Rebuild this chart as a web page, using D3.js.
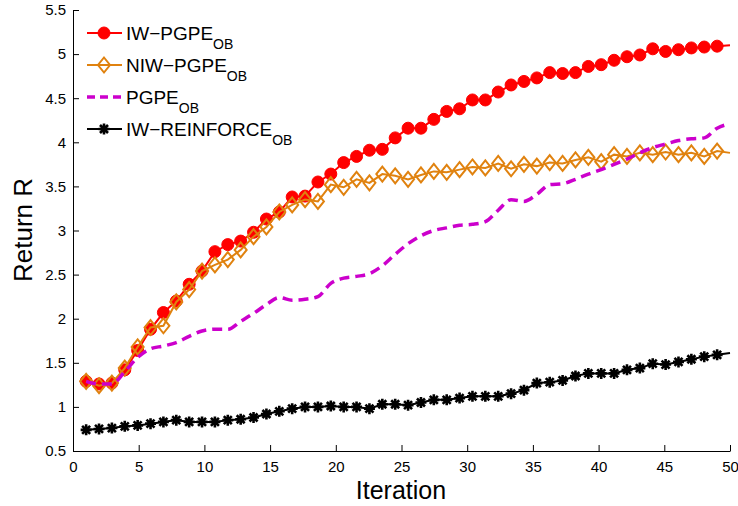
<!DOCTYPE html>
<meta charset="utf-8">
<title>Return R vs Iteration</title>
<style>
body { margin: 0; background: #fff; }
text { font-family: Arial, "Liberation Sans", Helvetica, sans-serif; fill: #000; }
</style>
<svg width="738" height="506"></svg>
<script src="https://d3js.org/d3.v7.min.js"></script>
<script>
// x positions of the samples (51 samples between 1 and 50, markers on first 50)
var iteration = [1, 1.98, 2.96, 3.94, 4.92, 5.9, 6.88, 7.86, 8.84, 9.82, 10.8, 11.78, 12.76,
  13.74, 14.72, 15.7, 16.68, 17.66, 18.64, 19.62, 20.6, 21.58, 22.56, 23.54, 24.52, 25.5,
  26.48, 27.46, 28.44, 29.42, 30.4, 31.38, 32.36, 33.34, 34.32, 35.3, 36.28, 37.26, 38.24,
  39.22, 40.2, 41.18, 42.16, 43.14, 44.12, 45.1, 46.08, 47.06, 48.04, 49.02, 50];

var iwPgpe = [1.29, 1.26, 1.27, 1.42, 1.64, 1.88, 2.07, 2.20, 2.39, 2.54, 2.76, 2.84, 2.88,
  2.98, 3.13, 3.21, 3.38, 3.39, 3.55, 3.64, 3.77, 3.84, 3.91, 3.92, 4.05, 4.16, 4.16, 4.26,
  4.35, 4.38, 4.48, 4.48, 4.57, 4.65, 4.69, 4.73, 4.79, 4.78, 4.79, 4.86, 4.88, 4.93, 4.97,
  4.99, 5.06, 5.03, 5.05, 5.07, 5.08, 5.09, 5.10];

var niwPgpe = [1.29, 1.24, 1.27, 1.44, 1.68, 1.90, 1.92, 2.19, 2.33, 2.54, 2.61, 2.67, 2.78,
  2.93, 3.04, 3.21, 3.29, 3.35, 3.33, 3.52, 3.49, 3.58, 3.54, 3.64, 3.62, 3.58, 3.63, 3.67,
  3.66, 3.69, 3.72, 3.71, 3.76, 3.70, 3.75, 3.73, 3.77, 3.76, 3.80, 3.83, 3.78, 3.86, 3.84,
  3.88, 3.86, 3.89, 3.86, 3.88, 3.84, 3.90, 3.88];

var pgpe = [1.29, 1.26, 1.26, 1.40, 1.56, 1.66, 1.69, 1.73, 1.80, 1.86, 1.88, 1.88, 1.97,
  2.06, 2.16, 2.24, 2.21, 2.22, 2.25, 2.40, 2.46, 2.48, 2.51, 2.60, 2.73, 2.85, 2.94, 3.00,
  3.03, 3.06, 3.07, 3.10, 3.23, 3.35, 3.33, 3.41, 3.52, 3.53, 3.58, 3.64, 3.69, 3.75, 3.81,
  3.88, 3.94, 3.98, 4.02, 4.04, 4.05, 4.16, 4.21];

var iwReinforce = [0.74, 0.75, 0.76, 0.78, 0.79, 0.81, 0.83, 0.85, 0.83, 0.83, 0.83, 0.85,
  0.86, 0.88, 0.92, 0.95, 0.98, 1.00, 1.00, 1.01, 1.00, 1.00, 0.98, 1.03, 1.03, 1.02, 1.05,
  1.08, 1.08, 1.10, 1.12, 1.12, 1.12, 1.15, 1.19, 1.27, 1.28, 1.30, 1.35, 1.38, 1.38, 1.38,
  1.42, 1.44, 1.49, 1.48, 1.51, 1.54, 1.57, 1.59, 1.61];

var xTicks = [0, 5, 10, 15, 20, 25, 30, 35, 40, 45, 50];
var yTicks = [0.5, 1, 1.5, 2, 2.5, 3, 3.5, 4, 4.5, 5, 5.5];

var series = [
  { name: "IW\u2212PGPE", values: iwPgpe, color: "#ff0000", marker: "circle" },
  { name: "NIW\u2212PGPE", values: niwPgpe, color: "#e0820f", marker: "diamond" },
  { name: "PGPE", values: pgpe, color: "#cc00cc", marker: "none", dash: "10,6" },
  { name: "IW\u2212REINFORCE", values: iwReinforce, color: "#000000", marker: "star" }
];

var svg = d3.select("svg");

var x = d3.scaleLinear().domain([0, 50]).range([73, 730]);
var y = d3.scaleLinear().domain([0.5, 5.5]).range([451, 10]);

// axes, ticks pointing inward like MATLAB
svg.append("g")
    .attr("transform", "translate(0," + y(0.5) + ")")
    .call(d3.axisBottom(x).tickValues(xTicks).tickSize(-6).tickPadding(10).tickSizeOuter(0))
    .call(function(g) {
      g.select(".domain").attr("stroke", "#000");
      g.selectAll("text").style("font-size", "15px").attr("fill", "#000");
    });

svg.append("g")
    .attr("transform", "translate(" + x(0) + ",0)")
    .call(d3.axisLeft(y).tickValues(yTicks).tickFormat(d3.format("")).tickSize(-6).tickPadding(7).tickSizeOuter(0))
    .call(function(g) {
      g.select(".domain").attr("stroke", "#000");
      g.selectAll("text").style("font-size", "15px").attr("fill", "#000");
    });

svg.append("text")
    .attr("x", 401)
    .attr("y", 499)
    .attr("text-anchor", "middle")
    .style("font-size", "25px")
    .text("Iteration");

svg.append("text")
    .attr("transform", "translate(32,230) rotate(-90)")
    .attr("text-anchor", "middle")
    .style("font-size", "26px")
    .text("Return R");

var line = d3.line()
    .x(function(d, i) { return x(iteration[i]); })
    .y(function(d) { return y(d); });

var smooth = d3.line()
    .curve(d3.curveMonotoneX)
    .x(function(d, i) { return x(iteration[i]); })
    .y(function(d) { return y(d); });

function drawMarker(g, type, color, cx, cy) {
  if (type == "circle") {
    g.append("circle").attr("cx", cx).attr("cy", cy).attr("r", 6)
      .attr("fill", color).attr("stroke", color).attr("stroke-width", 1);
  } else if (type == "diamond") {
    g.append("path")
      .attr("d", "M" + cx + "," + (cy - 7.5) + "L" + (cx + 6) + "," + cy + "L" + cx + "," + (cy + 7.5) + "L" + (cx - 6) + "," + cy + "Z")
      .attr("fill", "none").attr("stroke", color).attr("stroke-width", 2);
  } else if (type == "star") {
    var s = 5.5, t = 4;
    g.append("path")
      .attr("d", "M" + (cx - s) + "," + cy + "L" + (cx + s) + "," + cy +
                 "M" + cx + "," + (cy - s) + "L" + cx + "," + (cy + s) +
                 "M" + (cx - t) + "," + (cy - t) + "L" + (cx + t) + "," + (cy + t) +
                 "M" + (cx - t) + "," + (cy + t) + "L" + (cx + t) + "," + (cy - t))
      .attr("fill", "none").attr("stroke", color).attr("stroke-width", 2.6);
  }
}

series.forEach(function(s) {
  var g = svg.append("g");
  g.append("path")
    .datum(s.values)
    .attr("fill", "none")
    .attr("stroke", s.color)
    .attr("stroke-width", s.dash ? 3.5 : 2)
    .attr("stroke-dasharray", s.dash || null)
    .attr("d", s.dash ? smooth : line);
  s.values.slice(0, 50).forEach(function(v, i) {
    drawMarker(g, s.marker, s.color, x(iteration[i]), y(v));
  });
});

// legend
var legend = svg.append("g");
series.forEach(function(s, i) {
  var ly = 33 + i * 32;
  legend.append("line")
    .attr("x1", 87).attr("x2", 122).attr("y1", ly).attr("y2", ly)
    .attr("stroke", s.color)
    .attr("stroke-width", s.dash ? 3.5 : 2)
    .attr("stroke-dasharray", s.dash ? "8,5" : null);
  drawMarker(legend, s.marker, s.color, 104, ly);
  var t = legend.append("text")
    .attr("x", 126).attr("y", ly + 7)
    .style("font-size", "19px");
  t.append("tspan").text(s.name);
  t.append("tspan").attr("dy", 9).style("font-size", "14px").text("OB");
});
</script>
